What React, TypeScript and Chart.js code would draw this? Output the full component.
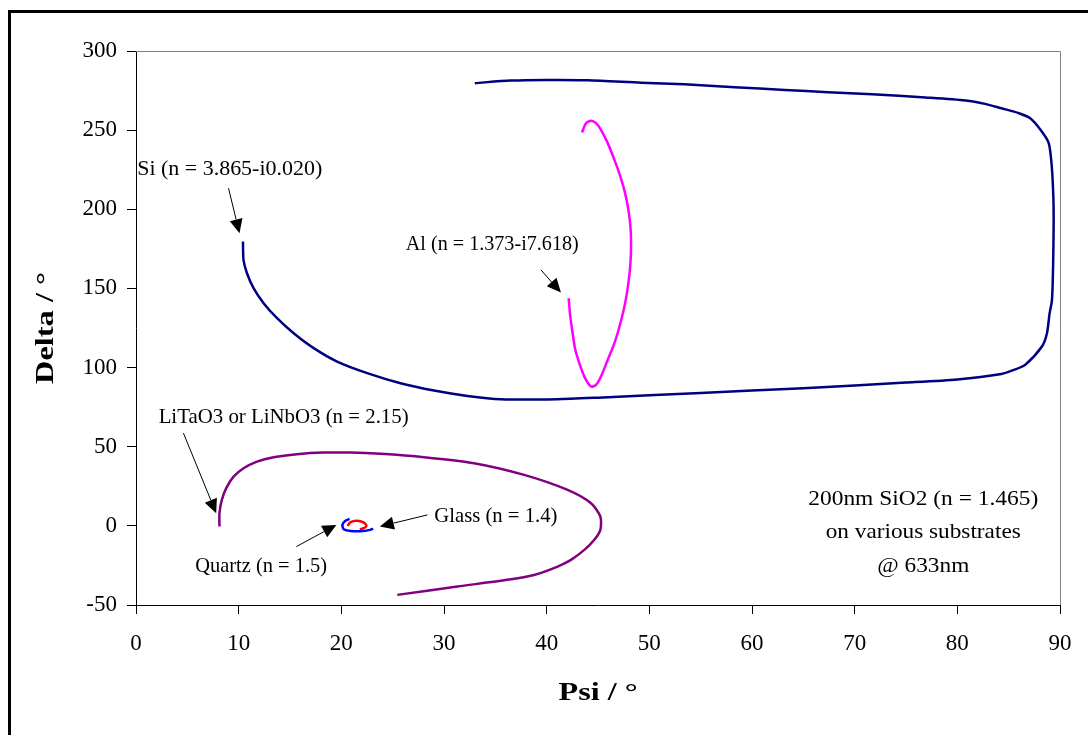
import React, { useEffect, useRef } from "react";
import { Chart, registerables } from "chart.js";

Chart.register(...registerables);

// ---- Data (Psi, Delta in degrees) ----
const siPsi = [10.42, 10.47, 10.81, 11.45, 12.43, 13.74, 15.36, 17.31, 19.59, 22.52, 25.77, 29.02, 32.28, 35.53, 41.0, 45.0, 55.0, 65.0, 75.0, 80.0, 84.3, 85.5, 86.6, 88.24, 88.73, 88.99, 89.22, 89.33, 89.38, 89.36, 89.2, 88.9, 88.1, 87.1, 86.0, 84.3, 82.7, 80.8, 76.9, 71.7, 67.4, 63.2, 58.3, 53.4, 49.2, 44.0, 40.0, 36.5, 33.0];
const siDelta = [179.6, 168.0, 159.6, 150.2, 140.7, 131.2, 121.7, 112.3, 103.8, 96.5, 90.1, 85.5, 82.1, 80.0, 80.0, 81.0, 84.0, 87.0, 90.5, 92.5, 96.0, 98.5, 101.7, 113.3, 121.7, 134.4, 142.8, 165, 190, 206, 227, 241.8, 250.2, 257.5, 260.7, 263.8, 266.6, 268.7, 270.6, 272.7, 274.0, 275.4, 277.1, 279.0, 280.0, 281.5, 281.7, 281.3, 279.7];

const alPsi = [42.14, 42.3, 42.53, 42.79, 43.18, 43.67, 44.32, 44.81, 45.29, 45.95, 46.6, 47.18, 47.64, 47.96, 48.16, 48.22, 48.16, 47.96, 47.64, 47.18, 46.6, 45.95, 45.29, 44.81, 44.32, 43.83, 43.44];
const alDelta = [143.8, 132.2, 121.7, 111.2, 102.8, 94.3, 88.0, 89.1, 94.3, 104.9, 115.4, 128.0, 140.7, 153.3, 165.9, 178.6, 189.1, 199.6, 210.2, 220.7, 231.2, 241.8, 250.2, 254.4, 256.0, 254.4, 248.5];

const litPsi = [8.13, 8.13, 8.36, 8.79, 9.5, 10.48, 11.78, 13.4, 15.68, 18.28, 20.89, 23.82, 28.05, 32.93, 37.81, 42.04, 44.32, 45.23, 45.23, 44.64, 43.67, 42.37, 41.07, 38.78, 36.19, 31.31, 25.45];
const litDelta = [-0.4, 8.0, 16.4, 23.8, 31.1, 36.4, 40.6, 43.4, 45.3, 46.3, 46.3, 45.5, 43.4, 39.6, 32.2, 22.7, 14.3, 5.9, -2.5, -8.8, -15.2, -21.5, -25.7, -31.0, -34.1, -38.3, -43.6];

const quartzPsi = [20.8, 20.4, 20.1, 20.24, 20.9, 21.9, 22.7, 23.1];
const quartzDelta = [4.4, 3.2, 0.6, -2.1, -3.2, -3.4, -2.7, -1.7];

const glassPsi = [20.6, 20.9, 21.5, 22.2, 22.45, 22.2, 21.8];
const glassDelta = [0, 2.3, 3.2, 2.1, 0, -1.5, -2.1];

const xTitle = "Psi / °";
const yTitle = "Delta / °";

// Annotation labels: text anchor (data coords, baseline), arrow from/to (data coords)
const labelTexts = ["Si (n = 3.865-i0.020)", "Al (n = 1.373-i7.618)", "LiTaO3 or LiNbO3 (n = 2.15)", "Glass (n = 1.4)", "Quartz (n = 1.5)"];
const labelX = [9.13, 34.7, 14.38, 35.05, 12.19];
const labelY = [221.7, 174.4, 64.9, 2.7, -28.9];
const labelW = [185, 173, 250, 123, 132];
const arrowFromX = [9.01, 39.44, 4.62, 28.38, 15.62];
const arrowFromY = [213.3, 161.7, 58.6, 6.9, -13.1];
const arrowToX = [10.08, 41.39, 7.81, 23.75, 19.52];
const arrowToY = [184.9, 147.4, 8.0, -0.4, 0.6];

const noteLines = ["200nm SiO2 (n = 1.465)", "on various substrates", "@ 633nm"];
const noteX = 76.68;
const noteY = [13.3, -7.8, -28.9];
const noteW = [230, 195, 92];

const SERIF = '"Liberation Serif", "Times New Roman", serif';

function drawStretched(ctx: CanvasRenderingContext2D, text: string, cx: number, by: number, font: string, targetW: number) {
  ctx.save();
  ctx.font = font;
  ctx.textAlign = "center";
  ctx.textBaseline = "alphabetic";
  const w = ctx.measureText(text).width;
  const s = targetW && w > 0 ? targetW / w : 1;
  ctx.translate(cx, by);
  ctx.scale(s, 1);
  ctx.fillStyle = "#000";
  ctx.fillText(text, 0, 0);
  ctx.restore();
}

function drawArrow(ctx: CanvasRenderingContext2D, x1: number, y1: number, x2: number, y2: number) {
  const ang = Math.atan2(y2 - y1, x2 - x1);
  const hl = 14;
  const hw = 6.5;
  const bx = x2 - hl * Math.cos(ang);
  const by = y2 - hl * Math.sin(ang);
  ctx.save();
  ctx.strokeStyle = "#000";
  ctx.fillStyle = "#000";
  ctx.lineWidth = 1;
  ctx.beginPath();
  ctx.moveTo(x1, y1);
  ctx.lineTo(bx, by);
  ctx.stroke();
  ctx.beginPath();
  ctx.moveTo(x2, y2);
  ctx.lineTo(bx + hw * Math.sin(ang), by - hw * Math.cos(ang));
  ctx.lineTo(bx - hw * Math.sin(ang), by + hw * Math.cos(ang));
  ctx.closePath();
  ctx.fill();
  ctx.restore();
}

const overlayPlugin = {
  id: "overlay",
  afterDraw(chart: any) {
    const ctx: CanvasRenderingContext2D = chart.ctx;
    const xs = chart.scales.x;
    const ys = chart.scales.y;
    const ca = chart.chartArea;
    ctx.save();
    // plot area top/right border (gray)
    ctx.strokeStyle = "#808080";
    ctx.lineWidth = 1;
    ctx.beginPath();
    ctx.moveTo(ca.left, Math.round(ca.top) + 0.5);
    ctx.lineTo(Math.round(ca.right) + 0.5, Math.round(ca.top) + 0.5);
    ctx.lineTo(Math.round(ca.right) + 0.5, ca.bottom);
    ctx.stroke();
    // outer chart frame
    ctx.strokeStyle = "#000";
    ctx.lineWidth = 3;
    ctx.strokeRect(9.5, 11.5, 3000, 3000);
    ctx.restore();

    // arrows and labels
    for (let i = 0; i < labelTexts.length; i++) {
      drawArrow(
        ctx,
        xs.getPixelForValue(arrowFromX[i]),
        ys.getPixelForValue(arrowFromY[i]),
        xs.getPixelForValue(arrowToX[i]),
        ys.getPixelForValue(arrowToY[i])
      );
      drawStretched(ctx, labelTexts[i], xs.getPixelForValue(labelX[i]), ys.getPixelForValue(labelY[i]), `21px ${SERIF}`, labelW[i]);
    }
    for (let i = 0; i < noteLines.length; i++) {
      drawStretched(ctx, noteLines[i], xs.getPixelForValue(noteX), ys.getPixelForValue(noteY[i]), `21px ${SERIF}`, noteW[i]);
    }

    // axis titles
    const midX = (ca.left + ca.right) / 2;
    drawStretched(ctx, xTitle, midX, 700, `bold 25px ${SERIF}`, 79);
    ctx.save();
    ctx.translate(53, (ca.top + ca.bottom) / 2);
    ctx.rotate(-Math.PI / 2);
    drawStretched(ctx, yTitle, 0, 0, `bold 25px ${SERIF}`, 112);
    ctx.restore();
  },
};

const pts = (xs: number[], ys: number[]) => xs.map((x, i) => ({ x, y: ys[i] }));

export default function App() {
  const ref = useRef<HTMLCanvasElement>(null);
  useEffect(() => {
    if (!ref.current) return;
    const mk = (label: string, xs: number[], ys: number[], color: string) => ({
      label,
      data: pts(xs, ys),
      showLine: true,
      borderColor: color,
      backgroundColor: color,
      borderWidth: 2.5,
      pointRadius: 0,
      tension: 0.25,
      fill: false,
    });
    const chart = new Chart(ref.current, {
      type: "scatter",
      data: {
        datasets: [
          mk("Si", siPsi, siDelta, "#000080"),
          mk("Al", alPsi, alDelta, "#FF00FF"),
          mk("LiTaO3", litPsi, litDelta, "#800080"),
          mk("Quartz", quartzPsi, quartzDelta, "#0000FF"),
          mk("Glass", glassPsi, glassDelta, "#FF0000"),
        ],
      },
      options: {
        animation: false,
        responsive: false,
        devicePixelRatio: 1,
        layout: { padding: { top: 51, right: 28, left: 0, bottom: 0 } },
        plugins: {
          legend: { display: false },
          tooltip: { enabled: false },
          title: { display: false },
        },
        scales: {
          x: {
            type: "linear",
            min: 0,
            max: 90,
            ticks: { stepSize: 10, color: "#000", font: { family: SERIF, size: 23 }, padding: 16 },
            grid: { drawOnChartArea: false, drawTicks: true, tickLength: 9, color: "#000" },
            border: { color: "#000", width: 1 },
            afterFit: (s: any) => {
              s.height = 130;
            },
          },
          y: {
            type: "linear",
            min: -50,
            max: 300,
            ticks: { stepSize: 50, color: "#000", font: { family: SERIF, size: 23 }, padding: 10 },
            grid: { drawOnChartArea: false, drawTicks: true, tickLength: 9, color: "#000" },
            border: { color: "#000", width: 1 },
            afterFit: (s: any) => {
              s.width = 136;
            },
          },
        },
      },
      plugins: [overlayPlugin],
    } as any);
    return () => chart.destroy();
  }, []);
  return (
    <div style={{ position: "fixed", left: 0, top: 0, width: 1088, height: 735, background: "#fff" }}>
      <canvas ref={ref} width={1088} height={735} style={{ display: "block", width: 1088, height: 735 }} />
    </div>
  );
}
